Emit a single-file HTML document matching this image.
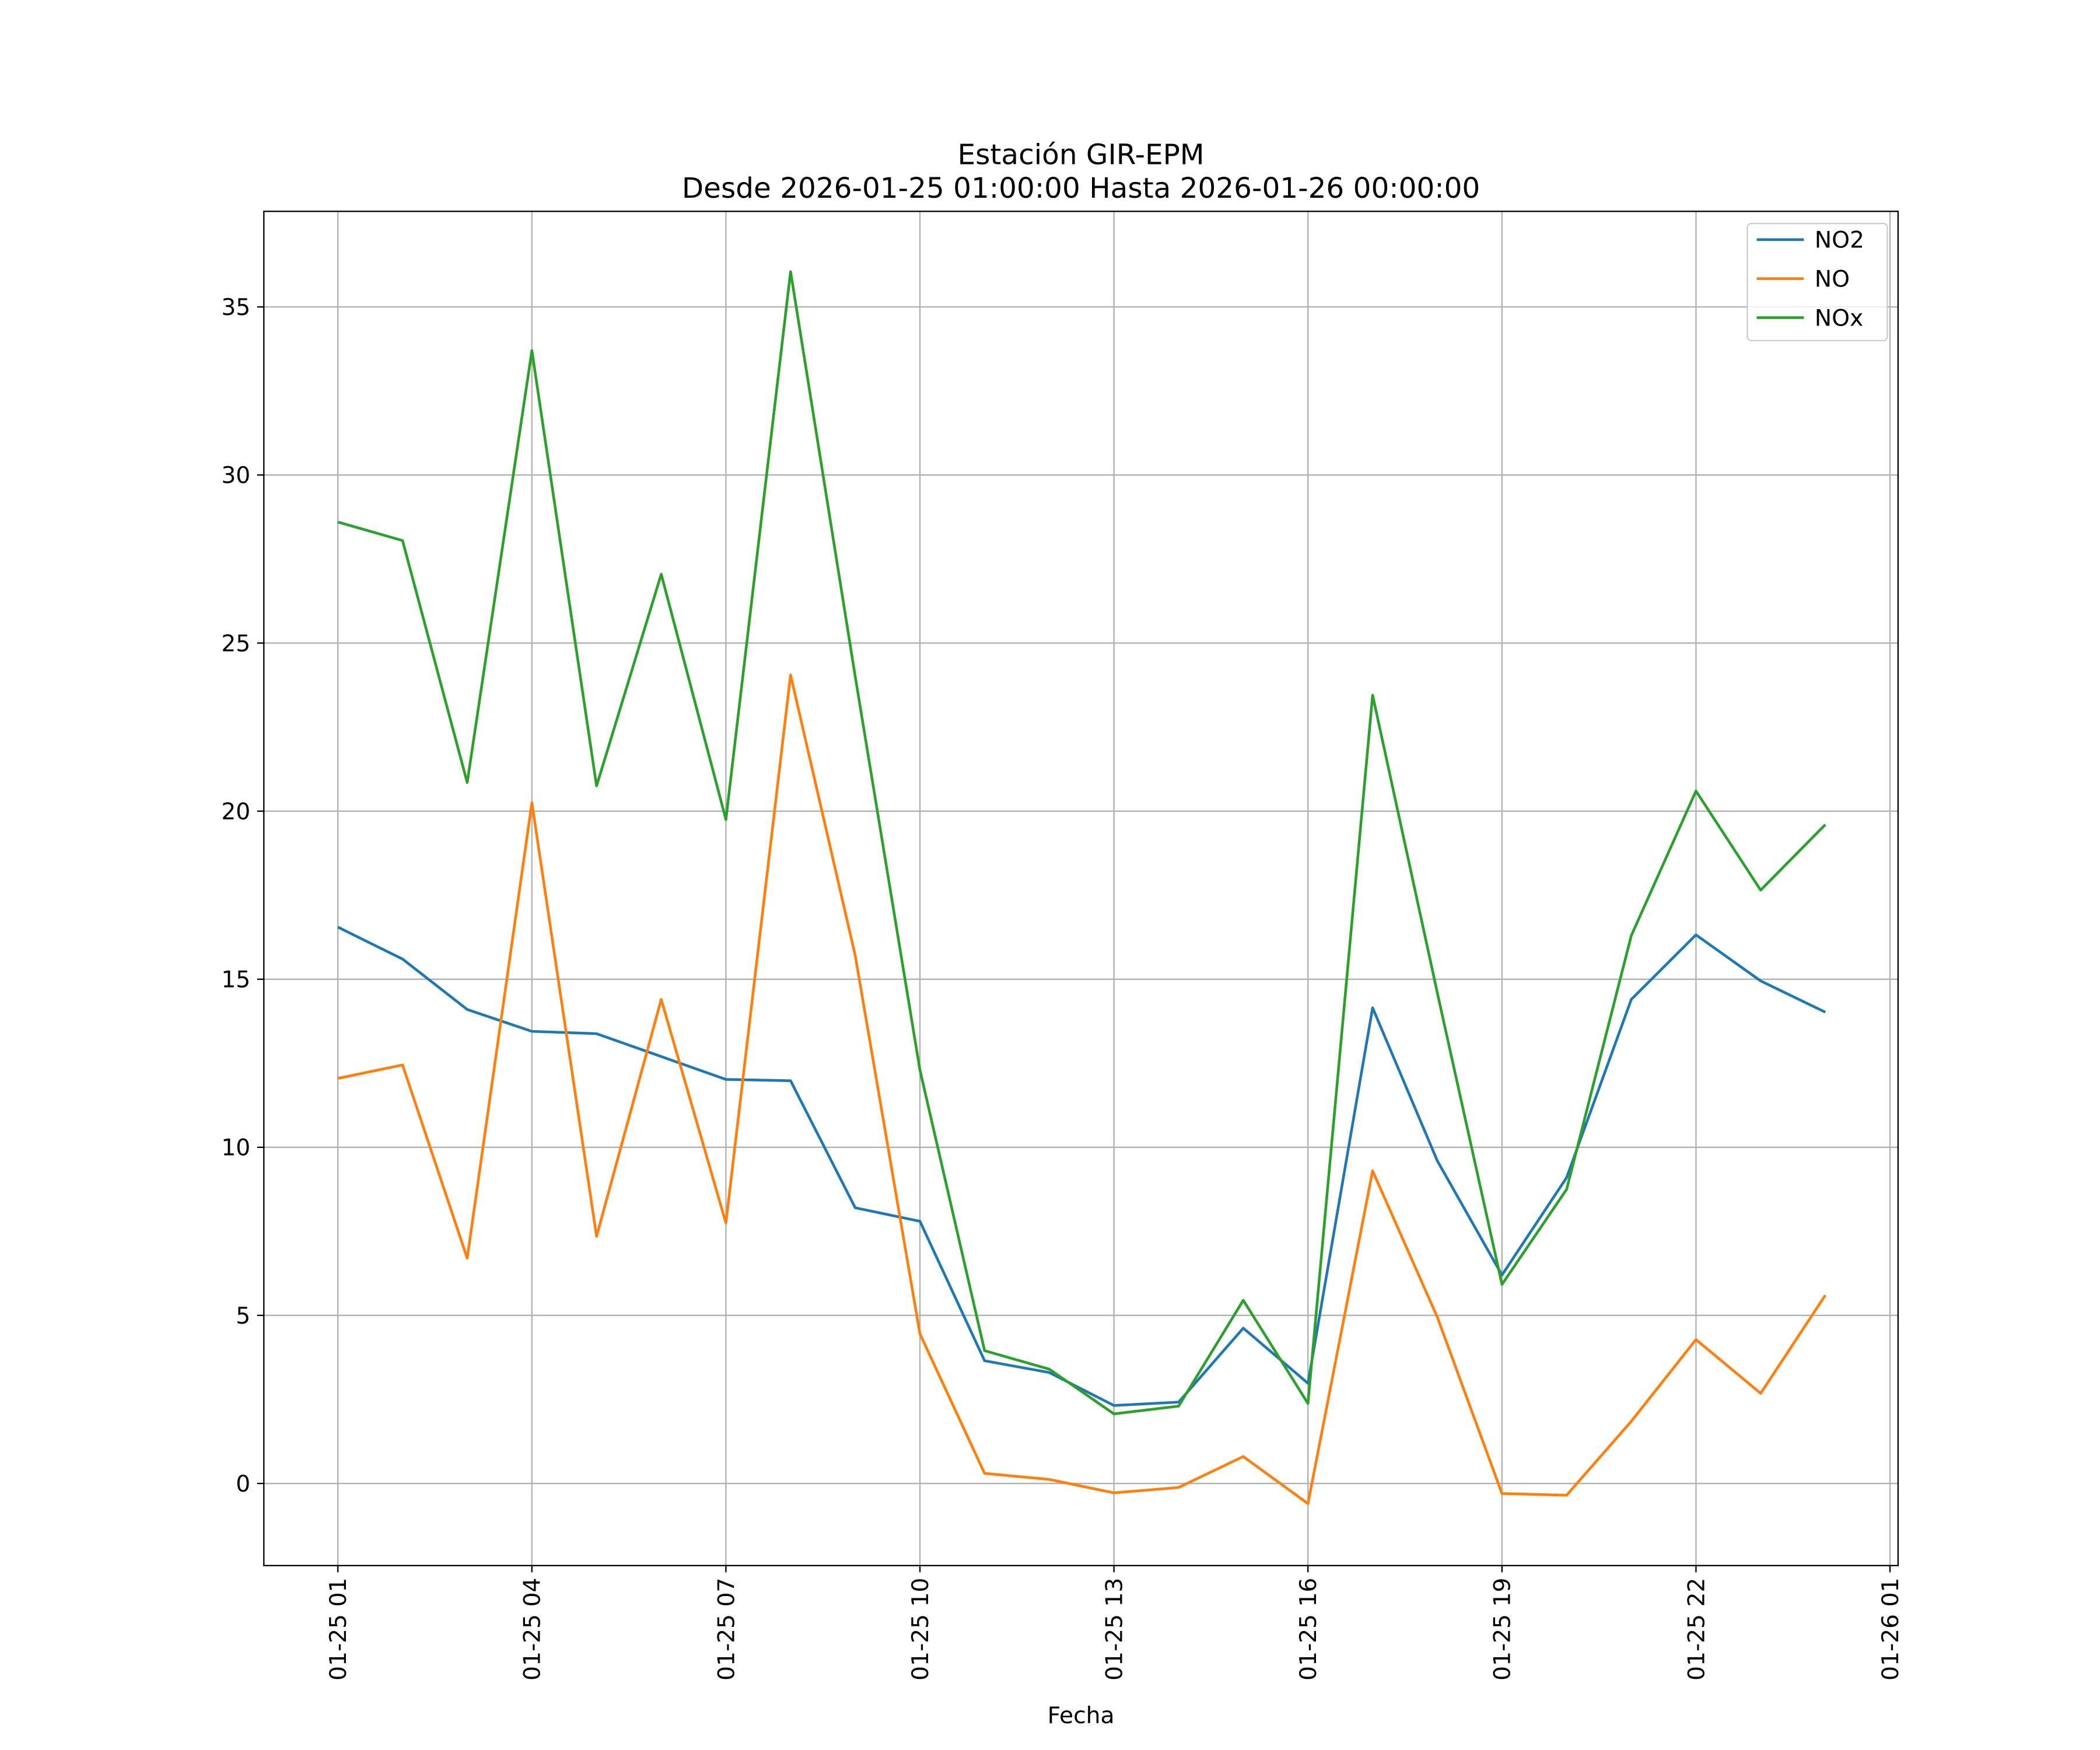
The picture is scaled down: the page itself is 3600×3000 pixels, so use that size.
<!DOCTYPE html>
<html><head><meta charset="utf-8"><style>
html,body{margin:0;padding:0;background:#fff}
svg{display:block;font-family:"DejaVu Sans","Liberation Sans",sans-serif}
</style></head><body>
<svg id="chart" width="3600" height="3000" viewBox="0 0 1560 1300" xmlns="http://www.w3.org/2000/svg">
<rect width="1560" height="1300" fill="#fff"/>
<g id="grid"></g>
<g id="series"></g>
<rect x="196" y="157" width="1214" height="1006" fill="none" stroke="#000" stroke-width="1"/>
<g id="axes"></g>
<text x="803" y="122" font-size="21" text-anchor="middle">Estación GIR-EPM</text>
<text x="803" y="147" font-size="21" text-anchor="middle">Desde 2026-01-25 01:00:00 Hasta 2026-01-26 00:00:00</text>
<text x="803" y="1280" font-size="17" text-anchor="middle">Fecha</text>
<g>
<rect x="1298" y="166" width="104" height="87" fill="#fff" fill-opacity="0.8" stroke="#ccc" rx="3"/>
<g id="legend-items"></g>
</g>
</svg>
<script>
const hours=[0,1,2,3,4,5,6,7,8,9,10,11,12,13,14,15,16,17,18,19,20,21,22,23];
const no2=[16.55,15.6,14.1,13.45,13.38,12.7,12.02,11.98,8.2,7.8,3.65,3.3,2.32,2.42,4.62,2.98,14.15,9.6,6.2,9.1,14.4,16.32,14.95,14.02];
const no=[12.05,12.45,6.7,20.25,7.35,14.4,7.75,24.05,15.7,4.45,0.3,0.12,-0.28,-0.12,0.8,-0.6,9.3,4.95,-0.3,-0.35,1.85,4.28,2.68,5.6];
const nox=[28.6,28.05,20.85,33.7,20.75,27.05,19.75,36.05,24.0,12.3,3.95,3.4,2.07,2.3,5.45,2.38,23.45,14.6,5.92,8.75,16.3,20.6,17.65,19.6];
const yTicks=[0,5,10,15,20,25,30,35];
const xTickHours=[0,3,6,9,12,15,18,21,24];
const xTickLabels=["01-25 01","01-25 04","01-25 07","01-25 10","01-25 13","01-25 16","01-25 19","01-25 22","01-26 01"];
const seriesNames=["NO2","NO","NOx"];
const colors=["#1f77b4","#ff7f0e","#2ca02c"];
const NS="http://www.w3.org/2000/svg";
const xS=h=>251+h*(1404-251)/24;
const yS=v=>1102-v*(1102-228)/35;
function mk(t,a,p){const e=document.createElementNS(NS,t);for(const k in a)e.setAttribute(k,a[k]);p.appendChild(e);return e;}
const grid=document.getElementById('grid'),axes=document.getElementById('axes');
yTicks.forEach(v=>{
  const l=mk('line',{x1:196,x2:1410,y1:yS(v),y2:yS(v),stroke:'#b0b0b0','stroke-width':1},grid);
  
  
  mk('line',{x1:191,x2:196,y1:yS(v),y2:yS(v),stroke:'#000'},axes);
  const t=mk('text',{x:186,y:yS(v)+6,'font-size':17,'text-anchor':'end'},axes);
  t.textContent=v;
  
  
});
xTickHours.forEach((h,i)=>{
  const x=xS(h);
  const l=mk('line',{x1:x,x2:x,y1:157,y2:1163,stroke:'#b0b0b0','stroke-width':1},grid);
  
  
  mk('line',{x1:x,x2:x,y1:1163,y2:1168,stroke:'#000'},axes);
  const t=mk('text',{x:0,y:0,'font-size':17,'text-anchor':'end',transform:`translate(${x+6},1172) rotate(-90)`},axes);
  t.textContent=xTickLabels[i];
  
  
});
const ser=document.getElementById('series');
[no2,no,nox].forEach((d,i)=>{
  const p=mk('polyline',{points:d.map((v,j)=>xS(hours[j])+','+yS(v)).join(' '),fill:'none',stroke:colors[i],'stroke-width':2,'stroke-linejoin':'round'},ser);
  
  
});
const li=document.getElementById('legend-items');
seriesNames.forEach((n,i)=>{
  const y=178+i*29;
  const g=mk('g',{},li);
  
  
  mk('line',{x1:1305,x2:1340,y1:y,y2:y,stroke:colors[i],'stroke-width':2},g);
  const t=mk('text',{x:1348,y:y+6,'font-size':17},g);
  t.textContent=n;
});
</script>
</body></html>
